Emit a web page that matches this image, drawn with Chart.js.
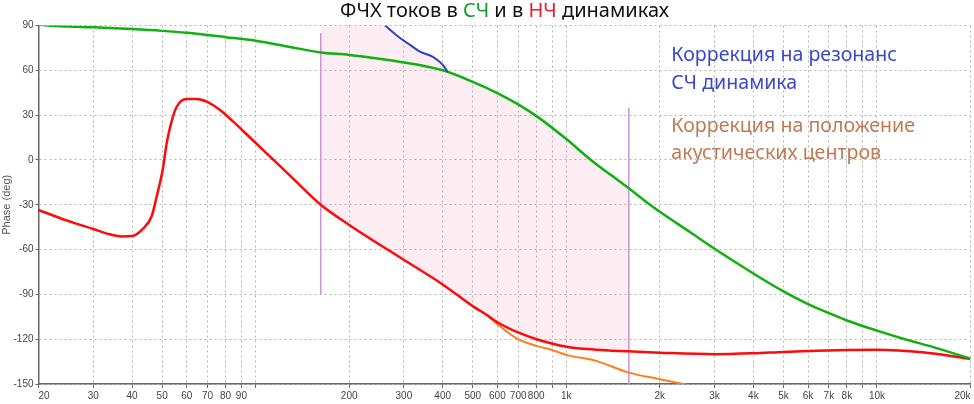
<!DOCTYPE html>
<html><head><meta charset="utf-8">
<script src="https://cdn.jsdelivr.net/npm/chart.js@4.4.1/dist/chart.umd.min.js"></script>
<style>html,body{margin:0;padding:0;background:#fff}#wrap{width:974px;height:404px}</style>
</head><body><div id="wrap"><canvas id="c" width="974" height="404"></canvas></div>
<script>
// ---- data (frequency in Hz, phase in degrees) ----
const greenFreq  = [20,25,30,40,50,60,80,100,130,162,200,300,400,500,600,700,800,1000,1200,1400,1590,1860,2000,2500,3000,4000,5000,6000,7000,8000,10000,12300,15000,20000];
const greenPhase = [90.5,89.3,88.8,87.6,86.4,85.1,82.2,79.8,75.5,72,70.3,65.3,60,52.3,44.8,37.2,29.5,14,0,-10.5,-19,-30,-34.7,-48.3,-59.5,-76,-88,-96.5,-102.5,-107.5,-114.3,-120,-125,-133];

const redFreq  = [20,24.6,30,34,37,40,43.4,46.3,48,50.2,51.7,53.5,55.7,60,64.6,69.6,76.8,84.7,95.9,108.5,130,162,200,298,401,502,555,596,699,802,1000,1245,1590,2000,3000,4000,5000,6000,8000,10000,14000,20000];
const redPhase = [-33.5,-40.5,-46.2,-49.8,-51.2,-51,-46,-37.5,-24.6,-6.7,11,25,35.6,40.8,40.8,39,33.4,25.6,15,4.4,-11.2,-30,-43.5,-66.5,-83.5,-98.2,-103.8,-108.3,-115.5,-120,-125,-127,-128.1,-129,-130,-129.4,-128.5,-127.9,-127.2,-127,-128.7,-133.2];

const orangeFreq  = [555,596,699,802,900,1000,1245,1590,2000,2460];
const orangePhase = [-103.8,-109.5,-120,-124.5,-127.2,-130.5,-134.5,-142.4,-146.8,-150.6];

const blueFreq  = [261,284,314,338,372,401,416];
const bluePhase = [90,83.5,77,72.5,69,63.5,58.7];

// highlighted band (Hz) and its marker line extents (deg)
const bandFreq = [162, 1590];
const bandMarkerTop = [85, 35];
const bandMarkerBottom = [-90, -150];

const xTicks = [20,30,40,50,60,70,80,90,100,200,300,400,500,600,700,800,900,1000,2000,3000,4000,5000,6000,7000,8000,9000,10000,20000];
const xTickLabels = ['20','30','40','50','60','70','80','90','','200','300','400','500','600','700','800','','1k','2k','3k','4k','5k','6k','7k','8k','','10k','20k'];
const yMin = -150, yMax = 90, yStep = 30;

const titleParts = [['ФЧХ токов в ', '#111'], ['СЧ', '#119a2e'], [' и в ', '#111'], ['НЧ', '#ee1c24'], [' динамиках', '#111']];
const notes = [
  {lines: ['Коррекция на резонанс', 'СЧ динамика'], color: '#3b47c9'},
  {lines: ['Коррекция на положение', 'акустических центров'], color: '#bf7a52'}
];

// ---- build datasets ----
const pts = (fs, ps) => fs.map((f, i) => ({x: f, y: ps[i]}));
const lastBlue = blueFreq[blueFreq.length - 1];
const bandUpper = [{x: bandFreq[0], y: yMax}, {x: blueFreq[0], y: yMax}]
  .concat(pts(blueFreq, bluePhase).slice(1))
  .concat(pts(greenFreq, greenPhase).filter(p => p.x > lastBlue && p.x <= bandFreq[1]));

const base = {pointRadius: 0, pointHoverRadius: 0, fill: false, cubicInterpolationMode: 'monotone'};
const datasets = [
  Object.assign({label: 'СЧ', data: pts(greenFreq, greenPhase), borderColor: '#0fb00f', borderWidth: 2.5, order: 1}, base),
  Object.assign({label: 'НЧ', data: pts(redFreq, redPhase), borderColor: '#ff0a0a', borderWidth: 2.5, order: 2}, base),
  Object.assign({label: 'НЧ корр.', data: pts(orangeFreq, orangePhase), borderColor: '#ff7f1e', borderWidth: 2, order: 3}, base),
  Object.assign({label: 'СЧ корр.', data: pts(blueFreq, bluePhase), borderColor: '#3040c8', borderWidth: 2, order: 0}, base),
  Object.assign({}, base, {label: 'band', data: bandUpper, borderColor: 'rgba(0,0,0,0)', borderWidth: 0, order: 10,
    fill: {target: 1}, backgroundColor: 'rgba(240,150,185,0.17)'}),
  Object.assign({}, base, {label: 'mL', data: [{x: bandFreq[0], y: bandMarkerTop[0]}, {x: bandFreq[0], y: bandMarkerBottom[0]}],
    borderColor: '#cf8ed8', borderWidth: 1.5, order: 9, cubicInterpolationMode: 'default', tension: 0}),
  Object.assign({}, base, {label: 'mR', data: [{x: bandFreq[1], y: bandMarkerTop[1]}, {x: bandFreq[1], y: bandMarkerBottom[1]}],
    borderColor: '#cf8ed8', borderWidth: 1.5, order: 9, cubicInterpolationMode: 'default', tension: 0})
];

const textPlugin = {
  id: 'texts',
  afterDraw(chart) {
    const ctx = chart.ctx, a = chart.chartArea;
    ctx.save();
    ctx.textBaseline = 'alphabetic';
    ctx.textAlign = 'left';
    ctx.font = "20px 'Noto Sans', 'Open Sans', sans-serif";
    let total = 0;
    titleParts.forEach(p => total += ctx.measureText(p[0]).width);
    let x = (a.left + a.right) / 2 - total / 2;
    titleParts.forEach(p => { ctx.fillStyle = p[1]; ctx.fillText(p[0], x, 17); x += ctx.measureText(p[0]).width; });
    ctx.font = "19.6px 'Noto Sans', 'Open Sans', sans-serif";
    const nx = a.left + (a.right - a.left) * 0.679;
    const ys = [[61, 89], [132, 159]];
    notes.forEach((n, i) => { ctx.fillStyle = n.color; n.lines.forEach((l, j) => ctx.fillText(l, nx, ys[i][j])); });
    ctx.restore();
  }
};

const tickFont = {family: "'Liberation Sans Narrow','Liberation Sans',Arial,sans-serif", size: 10};
const gridOpts = {color: '#b4b4b4', lineWidth: 1, tickColor: '#666', tickBorderDash: [], tickWidth: 1};
new Chart(document.getElementById('c'), {
  type: 'line',
  data: {datasets},
  plugins: [textPlugin],
  options: {
    responsive: false, animation: false, events: [],
    layout: {padding: {top: 25.5, right: 3.5, left: 0, bottom: 0}},
    plugins: {legend: {display: false}, tooltip: {enabled: false}, title: {display: false}},
    scales: {
      x: {
        type: 'logarithmic', min: 20, max: 20000,
        afterBuildTicks(s) { s.ticks = xTicks.map(v => ({value: v})); },
        afterFit(s) { s.height = 20; s.paddingLeft = 0; s.paddingRight = 0; },
        ticks: {autoSkip: false, maxRotation: 0, minRotation: 0, align: 'inner', padding: 2, color: '#444', font: tickFont,
          callback: (v, i) => xTickLabels[i]},
        grid: Object.assign({tickLength: 4}, gridOpts),
        border: {display: true, color: '#666', width: 1.5, dash: [2, 3]}
      },
      y: {
        type: 'linear', min: yMin, max: yMax,
        afterFit(s) { s.width = 38.5; },
        ticks: {stepSize: yStep, padding: 2, color: '#444', font: tickFont},
        grid: Object.assign({tickLength: 3}, gridOpts),
        border: {display: true, color: '#666', width: 1.5, dash: [2, 3]},
        title: {display: true, text: 'Phase (deg)', color: '#555', padding: 0,
          font: {family: "'Liberation Sans',Arial,sans-serif", size: 11}}
      }
    }
  }
});
</script>
</body></html>
